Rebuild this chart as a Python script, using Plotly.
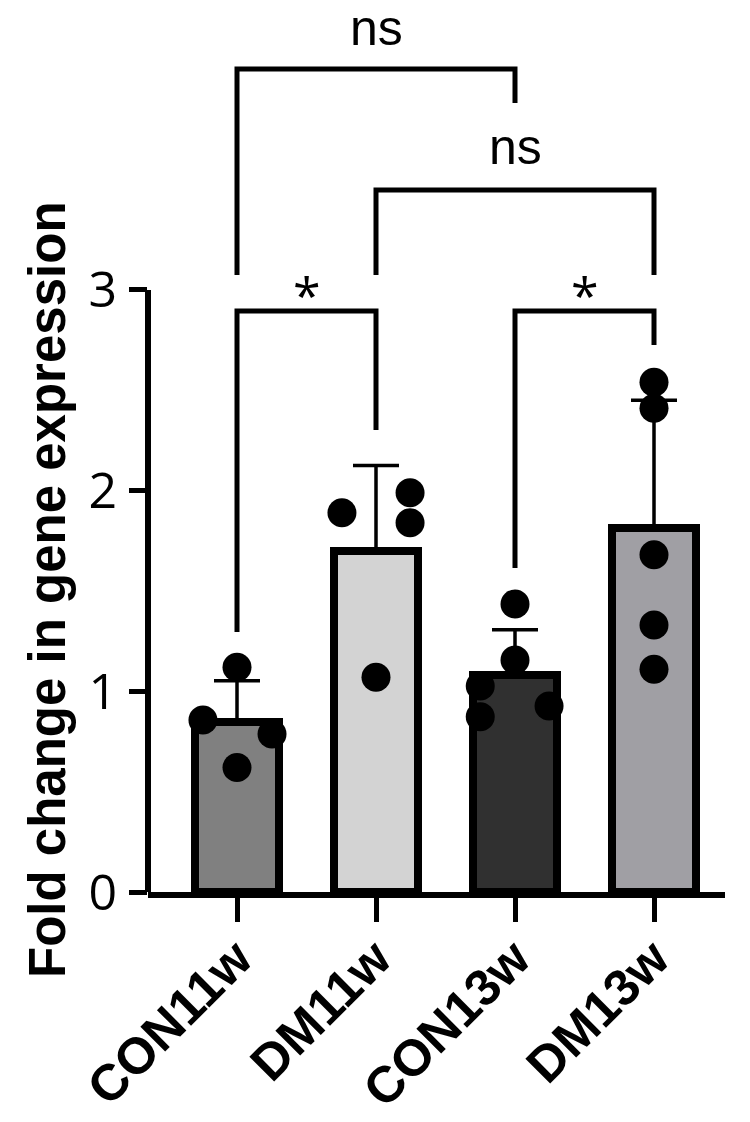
import plotly.graph_objects as go

# ---- data ----
categories = ["CON11w", "DM11w", "CON13w", "DM13w"]
means = [0.845, 1.70, 1.083, 1.814]
sds = [0.208, 0.425, 0.224, 0.637]
points_con11w = [1.12, 0.857, 0.787, 0.62]
points_dm11w = [1.89, 1.99, 1.84, 1.07]
points_con13w = [1.435, 1.156, 1.026, 0.873, 0.927]
points_dm13w = [2.54, 2.41, 1.68, 1.33, 1.11]
bar_colors = ["#808080", "#d3d3d3", "#303030", "#a09fa4"]
y_tick_vals = [0, 1, 2, 3]
y_title = "Fold change in gene expression"

# comparisons: (group a, group b, label)
comparisons = [(0, 1, "*"), (2, 3, "*"), (1, 3, "ns"), (0, 2, "ns")]

# ---- layout / style constants ----
jitter = [
    [0, -0.245, 0.252, 0],
    [-0.245, 0.245, 0.245, 0],
    [0, 0, -0.25, -0.25, 0.245],
    [0, 0, 0, 0, 0],
]
# bracket geometry (y of horizontal bar, y of left leg end, y of right leg end, label y, label anchor)
bracket_geom = [
    (2.895, 1.296, 2.302, 2.975, "middle"),
    (2.895, 1.615, 2.726, 2.975, "middle"),
    (3.498, 3.075, 3.075, 3.570, "bottom"),
    (4.101, 3.075, 3.932, 4.163, "bottom"),
]

all_points = [points_con11w, points_dm11w, points_con13w, points_dm13w]
x_idx = list(range(len(categories)))

fig = go.Figure()
fig.add_trace(go.Bar(
    x=x_idx, y=means, width=0.604,
    marker=dict(color=bar_colors, line=dict(color="black", width=8)),
    error_y=dict(type="data", array=sds, arrayminus=[0] * len(sds), symmetric=False,
                 color="black", thickness=3.5, width=23),
    showlegend=False,
))

px, py = [], []
for i, pts in enumerate(all_points):
    for j, v in enumerate(pts):
        px.append(i + jitter[i][j])
        py.append(v)
fig.add_trace(go.Scatter(
    x=px, y=py, mode="markers",
    marker=dict(color="black", size=29, line=dict(width=0)),
    showlegend=False, cliponaxis=False,
))

shapes = []
# y axis line from 0 to 3
shapes.append(dict(type="line", xref="paper", yref="y", x0=0, x1=0, y0=0, y1=3,
                   line=dict(color="black", width=6)))
annotations = []
for (a, b, lab), (yh, yl, yr, ylab, anc) in zip(comparisons, bracket_geom):
    shapes.append(dict(type="path", xref="x", yref="y",
                       path=f"M {a},{yl} L {a},{yh} L {b},{yh} L {b},{yr}",
                       line=dict(color="black", width=5)))
    fam = "Open Sans" if lab == "*" else "Liberation Sans, Arial"
    annotations.append(dict(x=(a + b) / 2, y=ylab, xref="x", yref="y", text=lab,
                            showarrow=False, xanchor="center", yanchor=anc,
                            borderpad=0,
                            font=dict(family=fam, size=50, color="black")))

annotations.append(dict(x=-0.1733, y=0.3386, xref="paper", yref="paper", text=y_title,
                        textangle=-90, showarrow=False, xanchor="center", yanchor="middle",
                        font=dict(family="Liberation Sans, Arial", size=51, color="black",
                                  weight="bold")))

fig.update_layout(
    width=750, height=1122,
    margin=dict(l=148, r=25, t=0, b=230, pad=0, autoexpand=False),
    paper_bgcolor="white", plot_bgcolor="white",
    shapes=shapes, annotations=annotations,
    bargap=0,
)
fig.update_xaxes(
    range=[-0.6403, 3.5108], tickvals=x_idx, ticktext=categories,
    showline=True, linecolor="black", linewidth=6, automargin=False,
    ticks="outside", ticklen=24, tickwidth=5, tickcolor="black",
    tickangle=-45, showgrid=False, zeroline=False, ticklabelstandoff=-14,
    tickfont=dict(family="Liberation Sans, Arial", size=51, color="black", weight="bold"),
)
fig.update_yaxes(
    range=[0, 4.445], tickvals=y_tick_vals, ticktext=[str(v) for v in y_tick_vals],
    showline=False, ticks="outside", ticklen=18, tickwidth=5, tickcolor="black",
    showgrid=False, zeroline=False, ticklabelstandoff=2, automargin=False,
    tickfont=dict(family="Open Sans", size=50, color="black"),
)

fig.write_html("out.html")
